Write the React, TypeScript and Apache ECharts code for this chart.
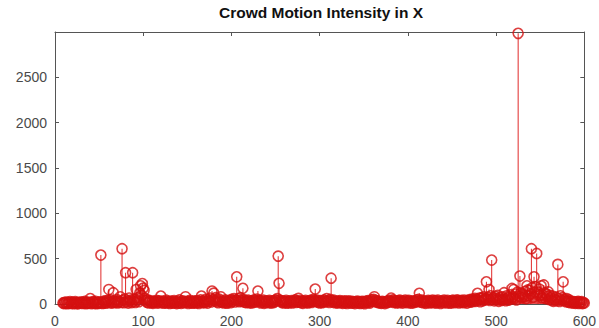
import React, { useEffect, useRef } from "react";
import * as echarts from "echarts";

const titleText = "Crowd Motion Intensity in X";
const xTicks = [0, 100, 200, 300, 400, 500, 600];
const yTicks = [0, 500, 1000, 1500, 2000, 2500];
const firstFrame = 9;

// intensity per frame, frames 9..600 (rows of 20)
const intensity = [
  12, 5, 18, 8, 22, 3, 15, 9, 27, 6, 14, 20, 4, 11, 25, 7, 16, 2, 19, 10,
  13, 24, 6, 17, 9, 28, 3, 12, 21, 8, 15, 60, 5, 18, 26, 7, 14, 30, 4, 11,
  19, 8, 23, 540, 12, 6, 28, 15, 35, 9, 22, 40, 160, 18, 45, 10, 26, 125, 14, 33,
  20, 48, 12, 30, 25, 80, 18, 610, 42, 15, 55, 345, 22, 38, 10, 65, 27, 44, 16, 345,
  30, 52, 18, 160, 40, 70, 25, 120, 200, 95, 225, 175, 150, 60, 35, 20, 45, 12, 28, 38,
  15, 22, 8, 30, 18, 25, 40, 10, 27, 35, 14, 88, 20, 32, 9, 24, 16, 42, 11, 29,
  21, 6, 33, 14, 26, 9, 38, 17, 23, 5, 30, 12, 45, 19, 8, 27, 36, 13, 22, 80,
  18, 30, 7, 25, 40, 14, 21, 9, 33, 16, 28, 11, 38, 20, 6, 26, 45, 88, 24, 13,
  35, 18, 52, 27, 10, 40, 30, 65, 22, 143, 48, 120, 36, 70, 25, 42, 15, 55, 30, 80,
  20, 34, 12, 28, 45, 18, 9, 32, 24, 40, 15, 50, 27, 38, 60, 22, 44, 300, 35, 58,
  25, 70, 40, 30, 173, 48, 20, 36, 14, 28, 42, 18, 33, 10, 25, 38, 16, 46, 22, 30,
  55, 143, 40, 26, 12, 35, 20, 44, 8, 28, 18, 36, 24, 14, 40, 30, 10, 22, 34, 16,
  26, 45, 38, 60, 528, 228, 42, 30, 18, 35, 12, 28, 20, 40, 9, 25, 33, 15, 22, 37,
  11, 30, 24, 45, 18, 35, 27, 62, 20, 38, 14, 29, 8, 33, 21, 40, 16, 26, 12, 35,
  24, 42, 18, 30, 50, 36, 165, 28, 44, 20, 32, 12, 38, 25, 15, 30, 45, 22, 35, 60,
  28, 40, 18, 50, 285, 35, 22, 42, 14, 30, 26, 10, 33, 20, 38, 15, 27, 8, 24, 36,
  13, 28, 6, 21, 35, 17, 25, 9, 30, 14, 22, 5, 27, 18, 33, 11, 24, 7, 19, 29,
  12, 26, 4, 20, 31, 15, 38, 23, 10, 28, 45, 30, 52, 80, 40, 22, 35, 18, 28, 12,
  24, 8, 30, 16, 21, 5, 27, 14, 33, 19, 40, 25, 65, 30, 45, 18, 35, 22, 12, 28,
  38, 15, 42, 24, 30, 10, 36, 20, 44, 26, 14, 32, 40, 18, 28, 9, 25, 35, 16, 30,
  22, 45, 28, 50, 118, 36, 20, 42, 14, 30, 24, 8, 33, 18, 40, 26, 12, 35, 20, 44,
  15, 28, 38, 10, 24, 42, 18, 30, 6, 26, 36, 14, 44, 22, 32, 12, 40, 20, 28, 9,
  34, 18, 42, 25, 14, 38, 22, 45, 30, 12, 36, 20, 40, 27, 15, 44, 24, 33, 10, 38,
  26, 48, 20, 35, 55, 28, 42, 62, 30, 50, 118, 40, 65, 25, 58, 70, 35, 80, 45, 60,
  245, 50, 75, 160, 40, 90, 485, 55, 70, 35, 85, 60, 45, 95, 30, 68, 52, 40, 78, 48,
  125, 58, 36, 90, 65, 42, 75, 100, 55, 172, 80, 160, 62, 110, 45, 130, 2985, 85, 308, 120,
  70, 110, 95, 80, 140, 60, 200, 155, 90, 150, 115, 610, 180, 75, 300, 130, 190, 558, 105, 130,
  165, 95, 200, 70, 100, 210, 125, 60, 110, 85, 135, 50, 95, 70, 40, 88, 30, 55, 45, 75,
  35, 437, 60, 28, 90, 42, 70, 245, 38, 55, 25, 60, 32, 20, 45, 15, 30, 22, 10, 26,
  18, 8, 24, 14, 30, 6, 20, 12, 25, 5, 16, 10,
];

const RED = "#d41010";
const AXIS = "#555555";
const FONT = "'Liberation Sans', Arial, sans-serif";

export default function App() {
  const ref = useRef<HTMLDivElement>(null);
  useEffect(() => {
    if (!ref.current) return;
    const chart = echarts.init(ref.current, null, { renderer: "svg" });
    const points = intensity.map((v, i) => [firstFrame + i, v]);
    const xMin = xTicks[0];
    const xMax = xTicks[xTicks.length - 1];
    const xStep = xTicks[1] - xTicks[0];
    const yStep = yTicks[1] - yTicks[0];
    const yMax = yTicks[yTicks.length - 1] + yStep;
    const axisCommon = {
      axisLine: { show: true, onZero: false, lineStyle: { color: AXIS, width: 1 } },
      axisTick: { show: true, inside: true, length: 4, lineStyle: { color: AXIS } },
      splitLine: { show: false },
    };
    chart.setOption({
      animation: false,
      backgroundColor: "#ffffff",
      grid: { left: 55, right: 11, top: 32, bottom: 24 },
      graphic: [
        {
          type: "text",
          x: 321,
          y: 12,
          style: {
            text: titleText,
            fill: "#111111",
            font: `bold 15.5px ${FONT}`,
            textAlign: "center",
            textVerticalAlign: "middle",
          },
        },
      ],
      xAxis: [
        {
          type: "value",
          position: "bottom",
          min: xMin,
          max: xMax,
          interval: xStep,
          ...axisCommon,
          axisLabel: { color: "#4a4a4a", fontSize: 14, fontFamily: FONT, margin: 10 },
        },
        {
          type: "value",
          position: "top",
          min: xMin,
          max: xMax,
          interval: xStep,
          ...axisCommon,
          axisLabel: { show: false },
        },
      ],
      yAxis: [
        {
          type: "value",
          position: "left",
          min: 0,
          max: yMax,
          interval: yStep,
          ...axisCommon,
          axisLabel: {
            color: "#4a4a4a",
            fontSize: 14,
            fontFamily: FONT,
            margin: 8,
            showMaxLabel: false,
            formatter: (v: number) => String(v),
          },
        },
        {
          type: "value",
          position: "right",
          min: 0,
          max: yMax,
          interval: yStep,
          ...axisCommon,
          axisLabel: { show: false },
        },
      ],
      series: [
        {
          type: "bar",
          xAxisIndex: 0,
          yAxisIndex: 0,
          data: points,
          barWidth: 1,
          itemStyle: { color: "#e02a2a" },
          silent: true,
        },
        {
          type: "scatter",
          xAxisIndex: 0,
          yAxisIndex: 0,
          data: points,
          symbol: "circle",
          symbolSize: 10,
          clip: false,
          itemStyle: { color: "rgba(0,0,0,0)", borderColor: RED, borderWidth: 1.6 },
          silent: true,
        },
      ],
    });
    return () => chart.dispose();
  }, []);
  return (
    <div
      ref={ref}
      style={{ position: "fixed", left: 0, top: 0, width: 599, height: 328, background: "#fff" }}
    />
  );
}
